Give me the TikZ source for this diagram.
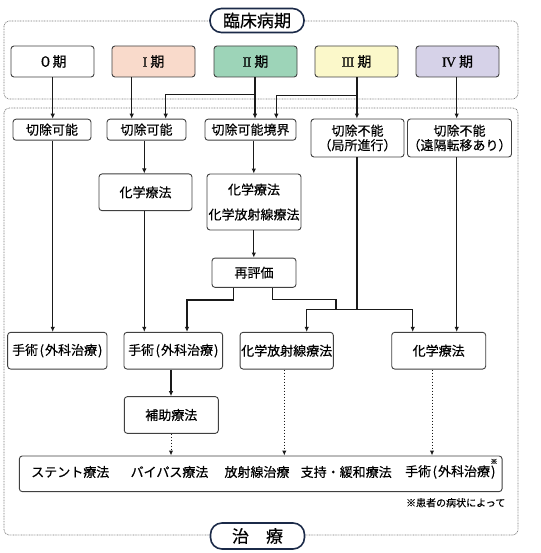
\documentclass[tikz,border=0pt]{standalone}
\usepackage{fontspec}
\setmainfont{Noto Sans CJK JP}[FakeBold=0.35]
\newfontfamily\numfont{Liberation Serif}[FakeBold=0.6]
\usetikzlibrary{arrows.meta}
\definecolor{boxline}{HTML}{404040}
\definecolor{linecol}{HTML}{1A1A1A}
\definecolor{navy}{HTML}{1B2A48}
\definecolor{framecol}{HTML}{777777}
\definecolor{stI}{HTML}{F9DACB}
\definecolor{stII}{HTML}{9DD4B8}
\definecolor{stIII}{HTML}{FBF8CA}
\definecolor{stIV}{HTML}{D6D2E8}
\newcommand{\opstage}[1]{{\numfont #1}\kern3pt 期}
\newcommand{\surg}{手術\kern1.5pt(\kern1pt外科治療\kern1pt)}
\tikzset{
  box/.style={draw=boxline, line width=0.9pt, rounded corners=3pt, fill=white, inner sep=0pt, align=center, font=\fontsize{13}{15}\selectfont},
  stagebox/.style={box, minimum width=83pt, minimum height=31pt, font=\fontsize{14}{16}\selectfont},
  arr/.style={draw=linecol, line width=1.2pt, -{Latex[length=5pt,width=4.5pt]}},
  plainline/.style={draw=linecol, line width=1.2pt},
  darr/.style={arr, line width=1pt, dotted},
  framebox/.style={draw=framecol, line width=0.7pt, dash pattern=on 0.8pt off 0.8pt, rounded corners=5pt},
  pill/.style={draw=navy, line width=1.6pt, rounded corners=11.5pt, fill=white, inner sep=0pt, minimum width=94pt, minimum height=24pt, font=\fontsize{17}{19}\selectfont},
  txt/.style={inner sep=0pt, font=\fontsize{13}{15}\selectfont}
}
\begin{document}
\begin{tikzpicture}[x=1pt,y=-1pt]
\useasboundingbox (0,0) rectangle (540,553);
% frames
\draw[framebox] (4,21) rectangle (518,99);
\draw[framebox] (4,108) rectangle (518,535);
\node[pill] (head) at (257,20.5) {臨床病期};
\node[pill, minimum height=26pt] (foot) at (257.5,536) {治　療};
% stages
\node[stagebox] (s0) at (52.5,61.5) {０期};
\node[stagebox, fill=stI] (s1) at (153.5,61.5) {\opstage{I}};
\node[stagebox, fill=stII] (s2) at (255.5,61.5) {\opstage{I\kern-0.6ptI}};
\node[stagebox, fill=stIII] (s3) at (356.5,61.5) {\opstage{I\kern-0.6ptI\kern-0.6ptI}};
\node[stagebox, fill=stIV] (s4) at (457.5,61.5) {\opstage{I\kern-0.8ptV}};
% row 2
\node[box, minimum width=78pt, minimum height=21pt] (c1) at (52,129.7) {切除可能};
\node[box, minimum width=79pt, minimum height=21pt] (c2) at (146.5,129.7) {切除可能};
\node[box, minimum width=91pt, minimum height=21pt] (c3) at (250.5,129.7) {切除可能境界};
\node[box, minimum width=93pt, minimum height=38pt, font=\fontsize{13}{14.5}\selectfont] (c4) at (357.5,138) {切除不能\\（局所進行）};
\node[box, minimum width=99pt, minimum height=38pt, font=\fontsize{13}{14.5}\selectfont] (c5) at (459.5,138) {切除不能\\（遠隔転移あり）};
% row 3
\node[box, minimum width=93pt, minimum height=36.7pt] (k1) at (145.5,192.3) {化学療法};
\node[box, minimum width=94pt, minimum height=56pt, font=\fontsize{13}{25}\selectfont] (k2) at (254,202) {化学療法\\化学放射線療法};
\node[box, minimum width=84pt, minimum height=29.3pt] (re) at (254,272.7) {再評価};
% row 4
\node[box, minimum width=99.3pt, minimum height=36.7pt] (o1) at (57.3,350.7) {\surg};
\node[box, minimum width=98.7pt, minimum height=36.7pt] (o2) at (173.3,350.7) {\surg};
\node[box, minimum width=93.3pt, minimum height=36.7pt] (o3) at (286.7,350.7) {化学放射線療法};
\node[box, minimum width=94pt, minimum height=36.7pt] (o4) at (438.7,350.7) {化学療法};
\node[box, minimum width=94pt, minimum height=36.7pt] (aux) at (171.3,415) {補助療法};
% bottom box
\node[box, minimum width=482.7pt, minimum height=35.7pt] (bot) at (260.7,473.8) {};
\node[txt] (t1) at (70.3,472) {ステント療法};
\node[txt] (t2) at (169.5,472) {バイパス療法};
\node[txt] (t3) at (257,472) {放射線治療};
\node[txt] (t4) at (346.2,472) {支持・緩和療法};
\node[txt] (t5) at (450.3,472) {\surg};
\node[inner sep=0pt, font=\fontsize{7}{8}\selectfont] (star) at (494,461.5) {※};
\node[inner sep=0pt, anchor=east, font=\fontsize{10}{12}\selectfont] (note) at (505.5,502.7) {※患者の病状によって};
% x guides
\coordinate (xa) at (52.7,0);
\coordinate (xb) at (131.7,0);
\coordinate (xc) at (165.7,0);
\coordinate (xd) at (255,0);
\coordinate (xe) at (276.3,0);
\coordinate (xf) at (356.9,0);
\coordinate (xg) at (456.7,0);
\coordinate (xh) at (144.3,0);
\coordinate (xi) at (253.8,0);
\coordinate (xj) at (187,0);
\coordinate (xk) at (306.7,0);
\coordinate (xl) at (412.7,0);
\coordinate (xm) at (171,0);
\coordinate (xn) at (284.3,0);
\coordinate (xo) at (432,0);
\coordinate (j2) at (255,94.3);
\coordinate (j3) at (356.9,95.3);
\coordinate (jr) at (356.9,309.3);
% stage connectors
\draw[arr] (s0.south -| xa) -- (c1.north -| xa);
\draw[arr] (s1.south -| xb) -- (c2.north -| xb);
\draw[arr] (s2.south -| xd) -- (c3.north -| xd);
\draw[arr] (j2) -| (c2.north -| xc);
\draw[arr] (s3.south -| xf) -- (c4.north -| xf);
\draw[arr] (j3) -| (c3.north -| xe);
\draw[arr] (s4.south -| xg) -- (c5.north -| xg);
% row 2 to lower
\draw[arr] (c1.south -| xa) -- (o1.north -| xa);
\draw[arr] (c2.south -| xh) -- (k1.north -| xh);
\draw[arr] (k1.south -| xh) -- (o2.north -| xh);
\draw[arr] (c3.south -| xi) -- (k2.north -| xi);
\draw[arr] (k2.south -| xi) -- (re.north -| xi);
\draw[arr] ([xshift=-20.7pt]re.south) |- (207,300) -| (o2.north -| xj);
\draw[plainline] ([xshift=18.3pt]re.south) |- (336,299.3) -- (336,309.3);
\draw[plainline] (c4.south -| xf) -- (jr);
\draw[arr] (jr) -| (o3.north -| xk);
\draw[arr] (jr) -| (o4.north -| xl);
\draw[arr] (c5.south -| xg) -- (o4.north -| xg);
\draw[arr] (o2.south -| xm) -- (aux.north -| xm);
\draw[darr] (aux.south -| xm) -- (bot.north -| xm);
\draw[darr] (o3.south -| xn) -- (bot.north -| xn);
\draw[darr] (o4.south -| xo) -- (bot.north -| xo);
\end{tikzpicture}
\end{document}
